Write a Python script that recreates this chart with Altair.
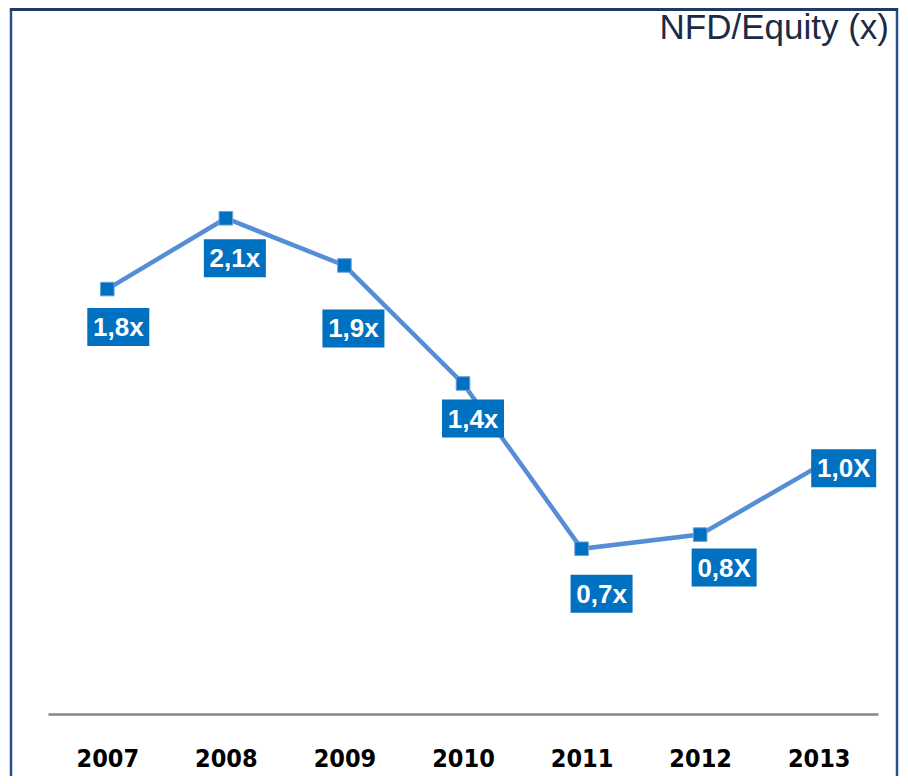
import altair as alt
import pandas as pd

# ---- data ----
years = ["2007", "2008", "2009", "2010", "2011", "2012", "2013"]
values = [1.8, 2.1, 1.9, 1.4, 0.7, 0.76, 1.05]
labels = ["1,8x", "2,1x", "1,9x", "1,4x", "0,7x", "0,8X", "1,0X"]
title_text = "NFD/Equity (x)"

df = pd.DataFrame({"year": years, "value": values, "label": labels})

# ---- styles: label-box offsets (pixels, relative to point) and box widths ----
label_dx = [11, 9, 9, 10, 20, 24, 25]
label_dy = [38, 40, 63, 35, 45, 33, 2]
box_w = [62, 62, 62, 62, 62, 65, 65]
box_h = 38

LINE_C = "#558ED5"
BOX_C = "#0070C0"
FRAME_C = "#2A4F86"

W, H = 830, 661

x_enc = alt.X(
    "year:O",
    sort=years,
    scale=alt.Scale(type="point", padding=0.5),
    axis=alt.Axis(
        title=None,
        labelAngle=0,
        ticks=False,
        tickSize=0,
        grid=False,
        domain=True,
        domainColor="#878787",
        domainWidth=2.5,
        labelFont="DejaVu Sans Condensed",
        labelFontWeight="bold",
        labelFontSize=25,
        labelColor="#000000",
        labelPadding=52,
        labelBaseline="alphabetic",
    ),
)
y_enc = alt.Y("value:Q", scale=alt.Scale(domain=[0, 2.8], nice=False, zero=True), axis=None)

base = alt.Chart(df).encode(x=x_enc, y=y_enc)

line = base.mark_line(color=LINE_C, strokeWidth=4.5)
pts = base.mark_point(shape="square", size=185, filled=True, fill=BOX_C,
                      stroke="#6FA0DC", strokeWidth=1, opacity=1)

layers = [line, pts]
for i, yr in enumerate(years):
    dx, dy, w = label_dx[i], label_dy[i], box_w[i]
    sub = alt.Chart(df).transform_filter(alt.datum.year == yr)
    rect = sub.mark_rect(
        color=BOX_C,
        xOffset=dx - w / 2, x2Offset=dx + w / 2,
        yOffset=dy - box_h / 2, y2Offset=dy + box_h / 2,
    ).encode(
        x=alt.X("year:O", sort=years),
        x2=alt.X2("year"),
        y=alt.Y("value:Q"),
        y2=alt.Y2("value"),
    )
    txt = sub.mark_text(
        color="white", font="Liberation Sans", fontWeight="bold", fontSize=26,
        align="center", baseline="middle", dx=dx, dy=dy + 1,
    ).encode(x=alt.X("year:O", sort=years), y=alt.Y("value:Q"), text="label:N")
    layers += [rect, txt]

one = alt.Chart(pd.DataFrame({"t": [title_text]}))
title = one.mark_text(
    font="Liberation Sans", fontSize=35, color="#1B2A47",
    align="right", baseline="alphabetic",
).encode(x=alt.value(841), y=alt.value(-14), text="t:N")

left_b = one.mark_rule(color=FRAME_C, strokeWidth=2.5).encode(
    x=alt.value(-37), y=alt.value(-45), y2=alt.value(730))
right_b = one.mark_rule(color=FRAME_C, strokeWidth=2.5).encode(
    x=alt.value(849), y=alt.value(-45), y2=alt.value(730))
top_b = one.mark_rule(color="#1F3A68", strokeWidth=3).encode(
    y=alt.value(-43.5), x=alt.value(-38), x2=alt.value(850))

chart = alt.layer(*layers, title, left_b, right_b, top_b).properties(
    width=W, height=H,
    autosize=alt.AutoSizeParams(type="none"),
    padding={"left": 40, "top": 45, "right": 22, "bottom": 62},
    background="white",
).configure_view(stroke=None)

chart.save("out.html", embed_options={"renderer": "svg", "actions": False})
